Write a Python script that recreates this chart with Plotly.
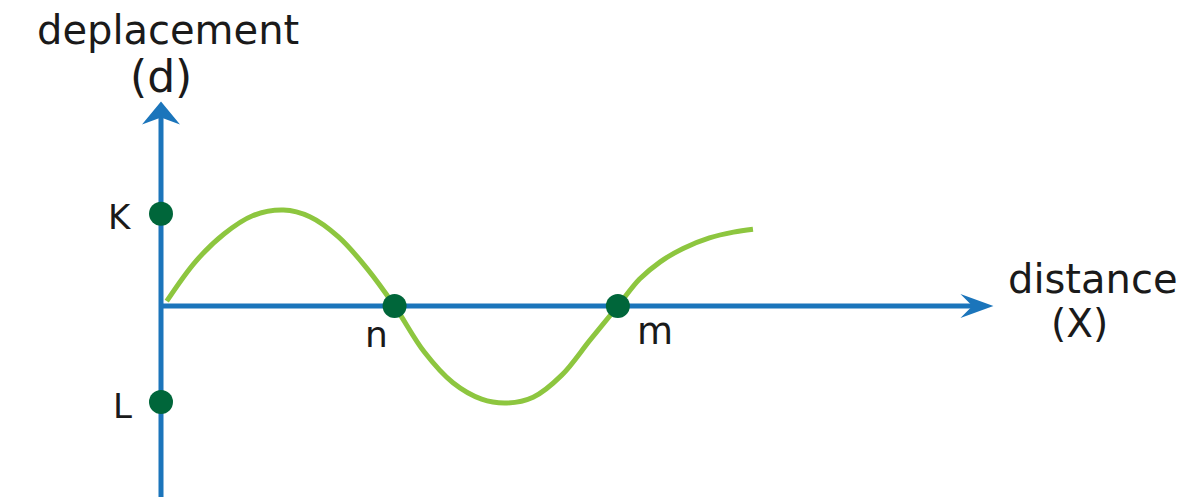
import plotly.graph_objects as go

# ---- data ----
curve_x = [0.05, 0.30, 0.55, 0.80, 1.07, 1.30, 1.55, 1.80, 2.04, 2.30, 2.55, 2.80, 3.02,
           3.25, 3.50, 3.75, 3.99, 4.18, 4.36, 4.56, 4.79, 5.00, 5.17]
curve_y = [0.05, 0.46, 0.75, 0.94, 1.00, 0.93, 0.72, 0.39, 0.0, -0.48, -0.80, -0.97, -1.01,
           -0.95, -0.72, -0.35, 0.0, 0.28, 0.46, 0.60, 0.71, 0.77, 0.80]

point_names = ["K", "L", "n", "m"]
point_x = [0.0, 0.0, 2.04, 3.99]
point_y = [0.96, -1.0, 0.0, 0.0]

x_axis_tip = 7.27
y_axis_tip = 2.13
y_axis_bottom = -2.2

x_title = ["distance", "(X)"]
y_title = ["deplacement", "(d)"]

BLUE = "#1b75bb"
LIGHT_GREEN = "#8dc63f"
DARK_GREEN = "#00663a"
TEXT = "#1a1a1a"
FONT = "DejaVu Sans"

W, H = 1197, 497
PAGE_OFFSET = 8  # default page margin around the figure
# pixel scale
SX, SY = 114.5, 96.0
OX, OY = 161.0 - PAGE_OFFSET, 306.0 - PAGE_OFFSET

fig = go.Figure()

# axes lines
fig.add_trace(go.Scatter(x=[0, x_axis_tip - 0.15], y=[0, 0], mode="lines",
                         line=dict(color=BLUE, width=5), hoverinfo="skip", showlegend=False))
fig.add_trace(go.Scatter(x=[0, 0], y=[y_axis_bottom, y_axis_tip - 0.15], mode="lines",
                         line=dict(color=BLUE, width=5), hoverinfo="skip", showlegend=False))

# wave
fig.add_trace(go.Scatter(x=curve_x, y=curve_y, mode="lines",
                         line=dict(color=LIGHT_GREEN, width=5, shape="spline", smoothing=1.0),
                         hoverinfo="skip", showlegend=False))

# points
fig.add_trace(go.Scatter(x=point_x, y=point_y, mode="markers",
                         marker=dict(color=DARK_GREEN, size=24, line=dict(width=0)),
                         hoverinfo="skip", showlegend=False))

# arrowheads (pixel-sized paths anchored at the tips)
fig.add_shape(type="path", xref="x", yref="y", xsizemode="pixel", ysizemode="pixel",
              xanchor=x_axis_tip, yanchor=0,
              path="M0,0 L-33,12 L-21,0 L-33,-12 Z",
              fillcolor=BLUE, line=dict(width=0))
fig.add_shape(type="path", xref="x", yref="y", xsizemode="pixel", ysizemode="pixel",
              xanchor=0, yanchor=y_axis_tip,
              path="M0,0 L-19,-23 L0,-16 L19,-23 Z",
              fillcolor=BLUE, line=dict(width=0))

# point labels
label_shift = {"K": (-41, -3), "L": (-39, -4), "n": (-18, -28), "m": (37, -25)}
label_size = {"K": 34, "L": 34, "n": 36, "m": 37}
for name, px, py in zip(point_names, point_x, point_y):
    dx, dy = label_shift[name]
    fig.add_annotation(x=px, y=py, xref="x", yref="y", text=name, showarrow=False,
                       xshift=dx, yshift=dy, xanchor="center", yanchor="middle",
                       font=dict(family=FONT, size=label_size[name], color=TEXT))

# axis titles (paper coordinates)
def paper(px, py):
    return (px - PAGE_OFFSET) / W, 1 - (py - PAGE_OFFSET) / H

for txt, (cx, cy), size in [(y_title[0], (168, 30), 40), (y_title[1], (161, 76), 44),
                            (x_title[0], (1093, 279), 40), (x_title[1], (1079, 323), 39)]:
    xp, yp = paper(cx, cy)
    fig.add_annotation(x=xp, y=yp, xref="paper", yref="paper", text=txt, showarrow=False,
                       xanchor="center", yanchor="middle",
                       font=dict(family=FONT, size=size, color=TEXT))

fig.update_layout(
    width=W, height=H,
    margin=dict(l=0, r=0, t=0, b=0),
    paper_bgcolor="white", plot_bgcolor="white",
    xaxis=dict(range=[-OX / SX, (W - OX) / SX], visible=False, fixedrange=True),
    yaxis=dict(range=[-(H - OY) / SY, OY / SY], visible=False, fixedrange=True),
    showlegend=False,
)

fig.write_html("out.html")
